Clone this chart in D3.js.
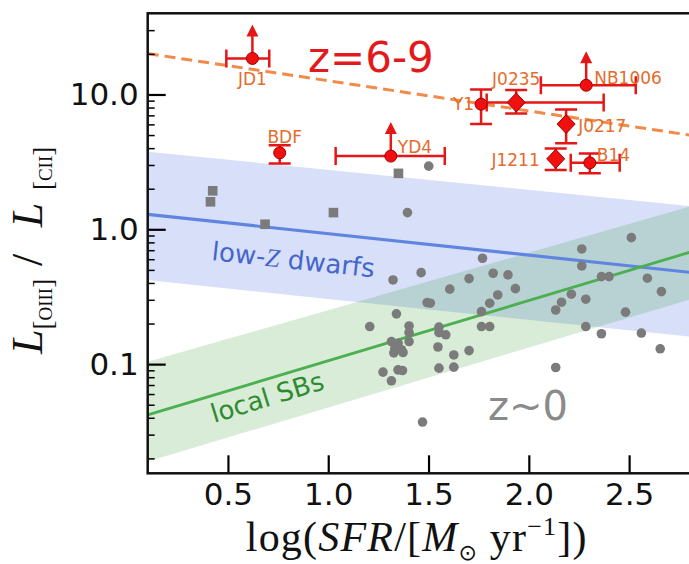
<!DOCTYPE html>
<html>
<head>
<meta charset="UTF-8">
<script src="https://cdn.jsdelivr.net/npm/d3@7"></script>
<style>
    body { margin: 0; background: #fff; }
</style>
<title></title>
</head>
<body>
<svg id="chart" width="689" height="564" font-family="DejaVu Sans, sans-serif"></svg>
<script>
    // high-z galaxies (z=6-9)
    var hzNames   = ["JD1", "BDF", "YD4", "Y1", "J0235", "NB1006", "J0217", "J1211", "B14"];
    var hzSFR     = [0.622, 0.758, 1.312, 1.762, 1.937, 2.286, 2.186, 2.134, 2.304];
    var hzRatio   = [18.5, 3.69, 3.49, 8.47, 8.73, 11.7, 6.03, 3.33, 3.11];
    var hzSFRlo   = [0.492, null, 1.037, null, 1.79, 2.06, null, null, 2.209];
    var hzSFRhi   = [0.706, null, 1.581, null, 2.373, 2.533, null, null, 2.453];
    var hzRatioLo = [null, 3.08, null, 6.03, 7.23, null, 4.34, 2.75, 2.60];
    var hzRatioHi = [null, 4.21, null, 10.9, 10.8, null, 7.74, 3.98, 3.65];
    var hzLimit   = [true, false, true, false, false, true, false, false, false];
    var hzMarker  = ["circle", "circle", "circle", "circle", "diamond", "circle", "diamond", "diamond", "circle"];

    // local dwarfs (squares)
    var sqSFR   = [0.424, 0.413, 0.685, 1.026, 1.35];
    var sqRatio = [1.93, 1.60, 1.09, 1.33, 2.60];

    // z~0 galaxies (circles)
    var ptSFR = [1.501, 1.395, 1.769, 1.463, 1.323, 1.702, 1.822, 1.896, 1.606, 1.933,
                 1.845, 1.493, 1.509, 1.805, 1.764, 1.34, 1.207, 1.403, 1.552, 1.764,
                 1.805, 1.403, 1.552, 1.586, 1.315, 1.348, 1.403, 1.332, 1.365, 1.547,
                 1.702, 1.327, 1.373, 1.626, 1.273, 1.348, 1.37, 1.552, 1.626, 1.315,
                 1.47, 2.511, 2.264, 2.264, 2.362, 2.4, 2.591, 2.661, 2.212, 2.284,
                 2.163, 2.134, 2.482, 2.284, 2.362, 2.561, 2.655, 2.134];
    var ptRatio = [2.94, 1.33, 0.61, 0.477, 0.421, 0.431, 0.472, 0.459, 0.36, 0.363,
                   0.326, 0.286, 0.283, 0.283, 0.245, 0.236, 0.19, 0.192, 0.188, 0.19,
                   0.19, 0.171, 0.171, 0.165, 0.147, 0.143, 0.147, 0.131, 0.128, 0.134,
                   0.126, 0.121, 0.122, 0.117, 0.0873, 0.0907, 0.0897, 0.0934, 0.095, 0.0752,
                   0.0372, 0.867, 0.715, 0.535, 0.446, 0.446, 0.434, 0.345, 0.33, 0.303,
                   0.288, 0.252, 0.243, 0.19, 0.168, 0.17, 0.13, 0.0944];

    // relations (end points at the axis limits)
    var fitSFR    = [0.1, 2.8];
    var dwarfFit  = [1.29, 0.48];
    var dwarfHi   = [3.76, 1.49];
    var dwarfLo   = [0.42, 0.16];
    var sbFit     = [0.042, 0.674];
    var sbHi      = [0.104, 1.47];
    var sbLo      = [0.019, 0.301];
    var highzFit  = [20.1, 5.0];

    var xTicks = [0.5, 1.0, 1.5, 2.0, 2.5];
    var yTicks = [0.1, 1.0, 10.0];

    // label placement for the high-z names: dx, dy (px) and anchor
    var labelPos = {
        "JD1": [0, 27, "middle"], "BDF": [5, -10, "middle"], "YD4": [7, -3, "start"],
        "Y1": [-7, 6, "end"], "J0235": [0, -17, "middle"], "NB1006": [8, -1, "start"],
        "J0217": [12, 8, "start"], "J1211": [-16, 7, "end"], "B14": [7, -2, "start"]
    };

    var SERIF = "'Liberation Serif', 'Times New Roman', serif";
    var svg = d3.select("#chart");
    var plot = {left: 147.7, top: 13.3, right: 689.3, bottom: 473.3};

    var x = d3.scaleLinear().domain([0.1, 2.8]).range([plot.left, plot.right]);
    var y = d3.scaleLog().domain([0.0155, 40]).range([plot.bottom, plot.top]);

    svg.append("clipPath").attr("id", "clip").append("rect")
        .attr("x", plot.left).attr("y", plot.top)
        .attr("width", plot.right - plot.left).attr("height", plot.bottom - plot.top);

    var g = svg.append("g").attr("clip-path", "url(#clip)");

    function band(lo, hi, color, op) {
        var pts = fitSFR.map(function(v, i) { return {x: v, lo: lo[i], hi: hi[i]}; });
        g.append("path").datum(pts)
            .attr("d", d3.area().x(function(d) { return x(d.x); })
                .y0(function(d) { return y(d.lo); })
                .y1(function(d) { return y(d.hi); }))
            .attr("fill", color).attr("fill-opacity", op);
    }
    function fitLine(vals, color, width, dash) {
        var pts = fitSFR.map(function(v, i) { return [v, vals[i]]; });
        g.append("path").datum(pts)
            .attr("d", d3.line().x(function(d) { return x(d[0]); }).y(function(d) { return y(d[1]); }))
            .attr("fill", "none").attr("stroke", color).attr("stroke-width", width)
            .attr("stroke-dasharray", dash || null);
    }

    band(dwarfLo, dwarfHi, "#4a6fe3", 0.22);
    band(sbLo, sbHi, "#3a9e3a", 0.2);
    fitLine(dwarfFit, "#5f85e0", 3.2);
    fitLine(sbFit, "#4caf50", 2.8);
    fitLine(highzFit, "#f28a4a", 3, "11,6");

    // z~0 points
    g.selectAll("circle.local").data(ptSFR).enter().append("circle")
        .attr("class", "local")
        .attr("cx", function(d) { return x(d); })
        .attr("cy", function(d, i) { return y(ptRatio[i]); })
        .attr("r", 4.8).attr("fill", "#7b7b7b");

    g.selectAll("rect.dwarf").data(sqSFR).enter().append("rect")
        .attr("class", "dwarf")
        .attr("x", function(d) { return x(d) - 4.8; })
        .attr("y", function(d, i) { return y(sqRatio[i]) - 4.8; })
        .attr("width", 9.6).attr("height", 9.6).attr("fill", "#7b7b7b");

    // high-z: error bars, limits, markers
    var red = "#e51616";
    var eb = g.append("g").attr("stroke", red).attr("stroke-width", 2.5).attr("fill", "none");
    hzNames.forEach(function(n, i) {
        var px = x(hzSFR[i]), py = y(hzRatio[i]);
        if (hzSFRlo[i] != null) {
            var x0 = x(hzSFRlo[i]), x1 = x(hzSFRhi[i]);
            eb.append("line").attr("x1", x0).attr("x2", x1).attr("y1", py).attr("y2", py);
            [x0, x1].forEach(function(c) {
                eb.append("line").attr("x1", c).attr("x2", c).attr("y1", py - 9).attr("y2", py + 9);
            });
        }
        if (hzRatioLo[i] != null) {
            var y0 = y(hzRatioLo[i]), y1 = y(hzRatioHi[i]);
            eb.append("line").attr("x1", px).attr("x2", px).attr("y1", y0).attr("y2", y1);
            [y0, y1].forEach(function(c) {
                eb.append("line").attr("x1", px - 11).attr("x2", px + 11).attr("y1", c).attr("y2", c);
            });
        }
        if (hzLimit[i]) {
            eb.append("line").attr("x1", px).attr("x2", px).attr("y1", py).attr("y2", py - 24);
            g.append("path")
                .attr("d", "M" + px + "," + (py - 34) + "L" + (px + 6) + "," + (py - 22) + "L" + (px - 6) + "," + (py - 22) + "Z")
                .attr("fill", red);
        }
    });

    hzNames.forEach(function(n, i) {
        var px = x(hzSFR[i]), py = y(hzRatio[i]);
        if (hzMarker[i] == "diamond") {
            g.append("path")
                .attr("d", "M" + px + "," + (py - 9.5) + "L" + (px + 9) + "," + py + "L" + px + "," + (py + 9.5) + "L" + (px - 9) + "," + py + "Z")
                .attr("fill", "#f01010").attr("stroke", "#a00000").attr("stroke-width", 1);
        } else {
            g.append("circle").attr("cx", px).attr("cy", py).attr("r", 6)
                .attr("fill", "#f01010").attr("stroke", "#a00000").attr("stroke-width", 1);
        }
        var lp = labelPos[n];
        g.append("text").attr("x", px + lp[0]).attr("y", py + lp[1])
            .attr("text-anchor", lp[2]).attr("font-size", 17).attr("fill", "#e46c2c")
            .text(n);
    });

    // annotations
    g.append("text").attr("x", 308).attr("y", 71.5).attr("font-size", 42).attr("fill", "#e31a1c").text("z=6-9");
    g.append("text").attr("x", 488).attr("y", 420).attr("font-size", 40).attr("fill", "#8a8a8a").text("z~0");

    var lz = g.append("text").attr("transform", "translate(211,260) rotate(6.1)")
        .attr("font-size", 26).attr("fill", "#4466cc");
    lz.append("tspan").text("low-");
    lz.append("tspan").style("font-family", SERIF).style("font-style", "italic").text("Z");
    lz.append("tspan").text(" dwarfs");

    g.append("text").attr("transform", "translate(214,423) rotate(-17)")
        .attr("font-size", 26).attr("fill", "#2e8b2e").text("local SBs");

    // axes
    var minor = y.ticks().filter(function(d) {
        var l = Math.log10(d);
        return Math.abs(l - Math.round(l)) > 1e-6 && d < 39;
    });

    var yAxisG = svg.append("g").attr("transform", "translate(" + plot.left + ",0)")
        .call(d3.axisLeft(y).tickValues(yTicks).tickFormat(d3.format(".1f")).tickSize(-18).tickPadding(9));
    var yMinorG = svg.append("g").attr("transform", "translate(" + plot.left + ",0)")
        .call(d3.axisLeft(y).tickValues(minor).tickFormat("").tickSize(-7));
    var xAxisG = svg.append("g").attr("transform", "translate(0," + plot.bottom + ")")
        .call(d3.axisBottom(x).tickValues(xTicks).tickFormat(d3.format(".1f")).tickSize(-18).tickPadding(10));

    [yAxisG, yMinorG, xAxisG].forEach(function(a) {
        a.attr("font-family", null).attr("font-size", null);
        a.select(".domain").remove();
        a.selectAll("text").attr("font-size", 31).attr("fill", "#111");
        a.selectAll("line").attr("stroke", "#000");
    });
    yAxisG.selectAll("line").attr("stroke-width", 2.2);
    xAxisG.selectAll("line").attr("stroke-width", 2.2);
    yMinorG.selectAll("line").attr("stroke-width", 1.5);

    svg.append("rect").attr("x", plot.left).attr("y", plot.top)
        .attr("width", plot.right - plot.left + 10).attr("height", plot.bottom - plot.top)
        .attr("fill", "none").attr("stroke", "#111").attr("stroke-width", 2.5);

    // axis titles
    var xl = svg.append("text").attr("x", 416.7).attr("y", 551).attr("text-anchor", "middle")
        .style("font-family", SERIF).attr("font-size", 42).attr("fill", "#111")
        .attr("letter-spacing", 1.2);
    xl.append("tspan").text("log(");
    xl.append("tspan").style("font-style", "italic").text("SFR");
    xl.append("tspan").text("/[");
    xl.append("tspan").style("font-style", "italic").text("M");
    xl.append("tspan").attr("font-size", 22).attr("dy", 9).style("font-family", "'DejaVu Sans', sans-serif").text("⊙");
    xl.append("tspan").attr("dy", -9).text(" yr");
    xl.append("tspan").attr("font-size", 26).attr("dy", -16).text("−1");
    xl.append("tspan").attr("dy", 16).text("])");

    var yl = svg.append("g").attr("transform", "translate(42,249) rotate(-90)").attr("fill", "#111");
    var ylParts = [
        {t: "L", u: -92.7, size: 44, italic: true, sub: false},
        {t: "[oiii]", u: -55.2, size: 27, italic: false, sub: true},
        {t: "/", u: -11, size: 44, italic: false, sub: false},
        {t: "L", u: 34, size: 44, italic: true, sub: false},
        {t: "[cii]", u: 80.6, size: 27, italic: false, sub: true}
    ];
    ylParts.forEach(function(p) {
        yl.append("text").attr("x", p.u).attr("y", p.sub ? 10 : 0)
            .attr("text-anchor", "middle").attr("font-size", p.size)
            .style("font-family", SERIF)
            .style("font-style", p.italic ? "italic" : null)
            .style("font-variant", p.sub ? "small-caps" : null)
            .text(p.t);
    });
</script>
</body>
</html>
